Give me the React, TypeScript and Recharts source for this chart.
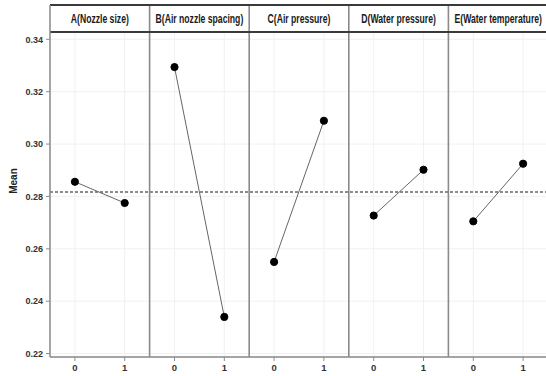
import React from 'react';
import {
  LineChart,
  Line,
  XAxis,
  YAxis,
  CartesianGrid,
  ReferenceLine,
  ReferenceArea,
} from 'recharts';

// ---- data ----
const factors = [
  'A(Nozzle size)',
  'B(Air nozzle spacing)',
  'C(Air pressure)',
  'D(Water pressure)',
  'E(Water temperature)',
];
const levels = [0, 1];
const meansA = [0.2856, 0.2775];
const meansB = [0.3294, 0.234];
const meansC = [0.255, 0.3089];
const meansD = [0.2727, 0.2902];
const meansE = [0.2705, 0.2925];
const grandMean = 0.2817;
const yTicks = [0.22, 0.24, 0.26, 0.28, 0.3, 0.32, 0.34];
const yLabel = 'Mean';

// ---- derived ----
const allMeans = [meansA, meansB, meansC, meansD, meansE];
const panelWidth = levels.length; // x-units per panel
const series = allMeans.map((m, p) =>
  levels.map((lv, i) => ({ x: p * panelWidth + lv, y: m[i] }))
);
const xTicks = factors.flatMap((_, p) => levels.map((lv) => p * panelWidth + lv));
const xDomain = [-0.5, factors.length * panelWidth - 0.5];
const dividers = factors.slice(1).map((_, p) => (p + 1) * panelWidth - 0.5);

// y-range layout: data area up to headerBottom, header strip above it
const yMin = 0.2187;
const headerBottom = 0.3428;
const yMax = 0.3531;

const tickFont = "'Liberation Sans', Arial, sans-serif";
const headerFont = "'Liberation Sans', Arial, sans-serif";

const HeaderLabel = (props: any) => {
  const { viewBox, text } = props;
  if (!viewBox) return null;
  const cx = viewBox.x + viewBox.width / 2;
  const cy = viewBox.y + viewBox.height / 2;
  return (
    <text
      transform={`translate(${cx},${cy + 4.5}) scale(0.665,1)`}
      textAnchor="middle"
      fontFamily={headerFont}
      fontWeight="bold"
      fontSize={13}
      fill="#1a1a1a"
    >
      {text}
    </text>
  );
};

const YLabel = (props: any) => {
  const { viewBox } = props;
  if (!viewBox) return null;
  const x = 17;
  const y = viewBox.y + viewBox.height / 2;
  return (
    <text
      x={x}
      y={y}
      transform={`rotate(-90, ${x}, ${y})`}
      textAnchor="middle"
      fontFamily={tickFont}
      fontWeight="bold"
      fontSize={10}
      fill="#222"
    >
      {yLabel}
    </text>
  );
};

export default function App() {
  return (
    <div
      style={{
        position: 'absolute',
        left: 0,
        top: 0,
        width: 546,
        height: 376,
        overflow: 'hidden',
        background: '#fff',
      }}
    >
      <LineChart width={548} height={376} margin={{ top: 5, right: 0, bottom: 0, left: 0 }}>
        <CartesianGrid stroke="#f1f1f1" strokeWidth={1} />
        <XAxis
          type="number"
          dataKey="x"
          domain={xDomain}
          ticks={xTicks}
          interval={0}
          allowDataOverflow
          height={19}
          tickSize={4}
          tickMargin={3}
          tickFormatter={(v: number) => String(levels[((v % panelWidth) + panelWidth) % panelWidth])}
          axisLine={{ stroke: '#8a8a8a', strokeWidth: 1.5 }}
          tickLine={{ stroke: '#8a8a8a' }}
          tick={{ fontSize: 9.5, fontWeight: 'bold', fill: '#333', fontFamily: tickFont }}
        />
        <YAxis
          type="number"
          domain={[yMin, yMax]}
          ticks={yTicks}
          interval={0}
          allowDataOverflow
          width={50}
          tickSize={4}
          tickMargin={3}
          tickFormatter={(v: number) => v.toFixed(2)}
          axisLine={{ stroke: '#8a8a8a', strokeWidth: 1.5 }}
          tickLine={{ stroke: '#8a8a8a' }}
          tick={{ fontSize: 9, fontWeight: 'bold', fill: '#333', fontFamily: tickFont }}
          label={<YLabel />}
        />
        {factors.map((f, p) => (
          <ReferenceArea
            key={'h' + p}
            x1={p * panelWidth - 0.5}
            x2={p * panelWidth + panelWidth - 0.5}
            y1={headerBottom}
            y2={yMax}
            fill="#ffffff"
            fillOpacity={1}
            stroke="none"
            label={<HeaderLabel text={f} />}
          />
        ))}
        <ReferenceLine y={grandMean} stroke="#666" strokeWidth={1.3} strokeDasharray="3 2" />
        {dividers.map((d) => (
          <ReferenceLine key={'d' + d} x={d} stroke="#8a8a8a" strokeWidth={1.6} />
        ))}
        <ReferenceLine y={headerBottom} stroke="#3a3a3a" strokeWidth={2} />
        <ReferenceLine y={yMax} stroke="#3a3a3a" strokeWidth={2} />
        {series.map((s, p) => (
          <Line
            key={'l' + p}
            data={s}
            dataKey="y"
            type="linear"
            stroke="#666"
            strokeWidth={1}
            dot={{ r: 3.6, fill: '#000', stroke: '#000', strokeWidth: 1 }}
            activeDot={false}
            isAnimationActive={false}
          />
        ))}
      </LineChart>
    </div>
  );
}
